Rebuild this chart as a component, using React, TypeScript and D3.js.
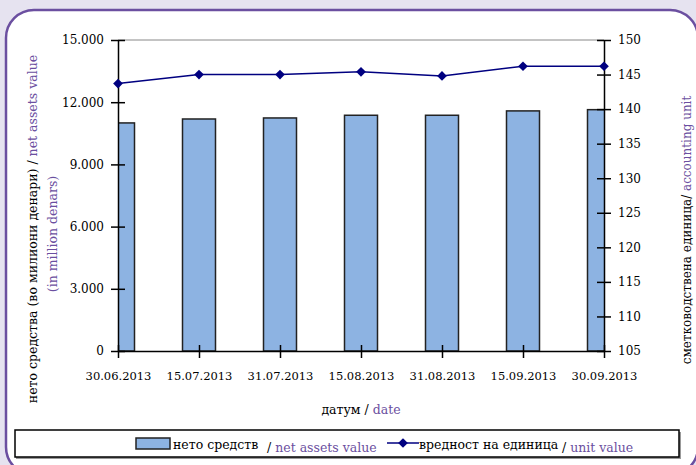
import { useEffect, useRef } from 'react';
import * as d3 from 'd3';

const dates = ['30.06.2013', '15.07.2013', '31.07.2013', '15.08.2013', '31.08.2013', '15.09.2013', '30.09.2013'];
const netAssets = [11000, 11190, 11240, 11370, 11370, 11580, 11640];
const unitValue = [143.7, 145.0, 145.0, 145.4, 144.8, 146.2, 146.2];
const leftTicks = [0, 3000, 6000, 9000, 12000, 15000];
const rightTicks = [105, 110, 115, 120, 125, 130, 135, 140, 145, 150];

const purple = '#6b4fa0';
const font = 'DejaVu Serif, serif';

export default function App() {
  const svgRef = useRef<SVGSVGElement>(null);

  useEffect(() => {
    if (!svgRef.current) return;
    const svg = d3.select(svgRef.current);
    svg.selectAll('*').remove();

    const W = 696, H = 465;
    const left = 118, right = 604, top = 40, bottom = 351;

    // background + frame (right edge runs off the picture)
    svg.append('rect').attr('width', W).attr('height', H).attr('fill', '#e6e3f0');
    svg.append('rect')
      .attr('x', 6).attr('y', 10).attr('width', 692).attr('height', 465)
      .attr('rx', 28).attr('fill', '#fff')
      .attr('stroke', purple).attr('stroke-width', 2.5);

    const x = d3.scalePoint<string>().domain(dates).range([left, right]);
    const yL = d3.scaleLinear().domain([0, 15000]).range([bottom, top]);
    const yR = d3.scaleLinear().domain([105, 150]).range([bottom, top]);

    const fmt = (v: number) => (v === 0 ? '0' : d3.format(',')(v).replace(/,/g, '.'));

    svg.append('clipPath').attr('id', 'plotclip')
      .append('rect').attr('x', left).attr('y', top - 5).attr('width', right - left).attr('height', bottom - top + 5);

    // top border
    svg.append('line').attr('x1', left).attr('x2', right).attr('y1', top).attr('y2', top)
      .attr('stroke', '#888').attr('stroke-width', 1);

    // bars
    const bw = 33;
    svg.append('g').attr('clip-path', 'url(#plotclip)')
      .selectAll('rect').data(netAssets).join('rect')
      .attr('x', (_, i) => x(dates[i])! - bw / 2)
      .attr('y', d => yL(d))
      .attr('width', bw)
      .attr('height', d => bottom - yL(d))
      .attr('fill', '#8db3e2')
      .attr('stroke', '#222').attr('stroke-width', 1.5);

    const styleText = (g: any, size = 12) => g.selectAll('text')
      .style('font-family', font).style('font-size', size + 'px').attr('fill', '#000');

    // bottom axis
    const xAxis = svg.append('g').attr('transform', `translate(0,${bottom})`)
      .call(d3.axisBottom(x).tickSize(7).tickSizeOuter(0).tickPadding(14));
    xAxis.selectAll('.tick line').attr('y1', -6).attr('stroke-width', 1.5);
    xAxis.select('.domain').attr('stroke-width', 1.5);
    styleText(xAxis, 11.5);

    // left axis
    const lAxis = svg.append('g').attr('transform', `translate(${left},0)`)
      .call(d3.axisLeft(yL).tickValues(leftTicks).tickFormat(d => fmt(+d)).tickSize(7).tickSizeOuter(0).tickPadding(7));
    lAxis.selectAll('.tick line').attr('x1', 7).attr('stroke-width', 1.5);
    lAxis.select('.domain').attr('stroke-width', 1.5);
    styleText(lAxis);

    // right axis
    const rAxis = svg.append('g').attr('transform', `translate(${right},0)`)
      .call(d3.axisRight(yR).tickValues(rightTicks).tickSize(7).tickSizeOuter(0).tickPadding(7));
    rAxis.selectAll('.tick line').attr('x1', -7).attr('stroke-width', 1.5);
    rAxis.select('.domain').attr('stroke-width', 1.5);
    styleText(rAxis);

    // line
    const line = d3.line<number>().x((_, i) => x(dates[i])!).y(d => yR(d));
    svg.append('path').datum(unitValue).attr('d', line)
      .attr('fill', 'none').attr('stroke', '#000080').attr('stroke-width', 1.5);
    const diamond = d3.symbol().type(d3.symbolDiamond2).size(60);
    svg.append('g').selectAll('path').data(unitValue).join('path')
      .attr('transform', (d, i) => `translate(${x(dates[i])},${yR(d)})`)
      .attr('d', diamond()!)
      .attr('fill', '#000080');

    const txt = (sel: any, size = 12.5) => sel.style('font-family', font).style('font-size', size + 'px');

    // axis titles
    const lt = txt(svg.append('text').attr('transform', `translate(37,229) rotate(-90)`)
      .attr('text-anchor', 'middle'));
    lt.append('tspan').attr('fill', '#000').text('нето средства (во милиони денари) / ');
    lt.append('tspan').attr('fill', purple).text('net assets value');
    txt(svg.append('text').attr('transform', `translate(57,234) rotate(-90)`)
      .attr('text-anchor', 'middle').attr('fill', purple).text('(in million denars)'));

    const rt = txt(svg.append('text').attr('transform', `translate(691,230) rotate(-90)`)
      .attr('text-anchor', 'middle'), 12);
    rt.append('tspan').attr('fill', '#000').text('сметководствена единица/ ');
    rt.append('tspan').attr('fill', purple).text('accounting unit');

    const xt = txt(svg.append('text').attr('x', 361).attr('y', 414).attr('text-anchor', 'middle'));
    xt.append('tspan').attr('fill', '#000').text('датум / ');
    xt.append('tspan').attr('fill', purple).text('date');

    // legend
    svg.append('rect').attr('x', 16).attr('y', 432).attr('width', 665).attr('height', 27)
      .attr('fill', '#999');
    svg.append('rect').attr('x', 15).attr('y', 430).attr('width', 664).attr('height', 27)
      .attr('fill', '#fff').attr('stroke', '#000').attr('stroke-width', 1.5);
    const lg = svg.append('g');
    lg.append('rect').attr('x', 136).attr('y', 438).attr('width', 34).attr('height', 11)
      .attr('fill', '#8db3e2').attr('stroke', '#222').attr('stroke-width', 1.5);
    txt(lg.append('text').attr('x', 173).attr('y', 449).attr('fill', '#000').text('нето средств'));
    const t1 = txt(lg.append('text').attr('x', 267).attr('y', 452));
    t1.append('tspan').attr('fill', '#000').text('/ ');
    t1.append('tspan').attr('fill', purple).text('net assets value');
    lg.append('line').attr('x1', 387).attr('x2', 419).attr('y1', 443).attr('y2', 443)
      .attr('stroke', '#000080').attr('stroke-width', 1.5);
    lg.append('path').attr('transform', 'translate(403,443)').attr('d', diamond()!).attr('fill', '#000080');
    txt(lg.append('text').attr('x', 419).attr('y', 449).attr('fill', '#000').text('вредност на единица'));
    const t2 = txt(lg.append('text').attr('x', 562).attr('y', 452));
    t2.append('tspan').attr('fill', '#000').text('/ ');
    t2.append('tspan').attr('fill', purple).text('unit value');
  }, []);

  return (
    <svg ref={svgRef} width={696} height={465}
      style={{ position: 'absolute', left: 0, top: 0, display: 'block' }} />
  );
}
